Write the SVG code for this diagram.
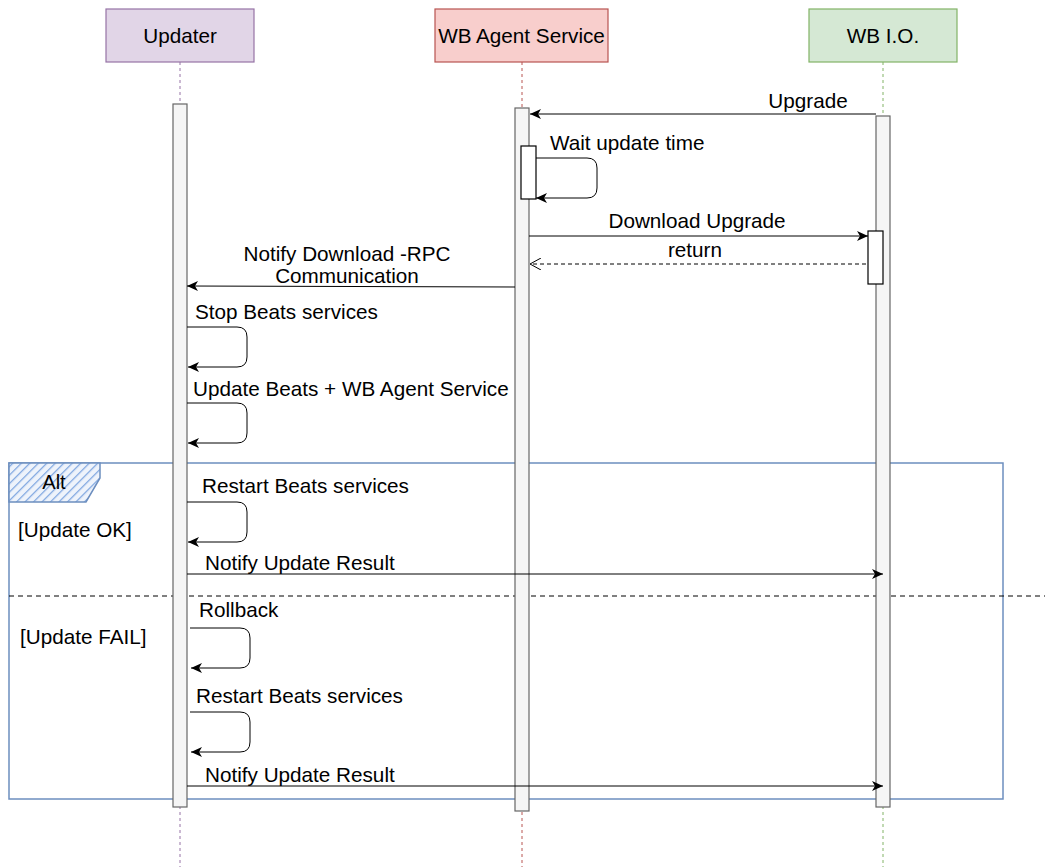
<svg xmlns="http://www.w3.org/2000/svg" width="1045" height="867" viewBox="0 0 1045 867">
<style>
text{font-family:"Liberation Sans",Arial,Helvetica,sans-serif;font-size:20.7px;fill:#000}
.c{text-anchor:middle}
.msg{fill:none;stroke:#000;stroke-width:1}
.act{fill:#f5f5f5;stroke:#666;stroke-width:1.2}
.act2{fill:#fff;stroke:#000;stroke-width:1.2}
.ll{stroke-width:1;stroke-dasharray:3,3;fill:none}
</style>
<defs>
<marker id="ah" markerUnits="userSpaceOnUse" markerWidth="12" markerHeight="10" refX="11" refY="5" orient="auto">
<path d="M0,0 L11,5 L0,10 L3,5 z" fill="#000"/>
</marker>
<marker id="oh" markerUnits="userSpaceOnUse" markerWidth="12" markerHeight="12" refX="11" refY="6" orient="auto">
<path d="M0,0 L11,6 L0,12" fill="none" stroke="#000" stroke-width="1"/>
</marker>
<pattern id="hatch" patternUnits="userSpaceOnUse" width="6" height="6" patternTransform="rotate(45)">
<rect width="6" height="6" fill="#eef3fb"/>
<line x1="0" y1="0" x2="0" y2="6" stroke="#7ea6e0" stroke-width="2.5"/>
</pattern>
</defs>
<rect width="1045" height="867" fill="#fff"/>

<g id="frame-alt">
<rect x="9" y="463" width="994" height="336" fill="none" stroke="#6c8ebf" stroke-width="1.5"/>
<path d="M9,463 L100,463 L100,478 L86,502 L9,502 Z" fill="url(#hatch)" stroke="#6c8ebf" stroke-width="1.5"/>
<text x="54" y="489" class="c" style="font-size:20px">Alt</text>
<text x="18" y="537">[Update OK]</text>
<text x="20" y="644">[Update FAIL]</text>
<line x1="9" y1="596" x2="1045" y2="596" stroke="#000" stroke-width="1" stroke-dasharray="5,4"/>
</g>

<g id="updater">
<line class="ll" x1="180" y1="62" x2="180" y2="867" stroke="#9673a6"/>
<rect x="106" y="9" width="148" height="53" fill="#e1d5e7" stroke="#9673a6" stroke-width="1.2"/>
<text x="180" y="43" class="c">Updater</text>
<rect class="act" x="173" y="104" width="14" height="703"/>
</g>

<g id="agent">
<line class="ll" x1="522" y1="62" x2="522" y2="867" stroke="#b85450"/>
<rect x="435" y="9" width="173" height="53" fill="#f8cecc" stroke="#b85450" stroke-width="1.2"/>
<text x="521.5" y="43" class="c">WB Agent Service</text>
<rect class="act" x="515" y="108" width="14" height="703"/>
<rect class="act2" x="521" y="146" width="15" height="53"/>
</g>

<g id="wbio">
<line class="ll" x1="883" y1="62" x2="883" y2="867" stroke="#82b366"/>
<rect x="809" y="9" width="148" height="53" fill="#d5e8d4" stroke="#82b366" stroke-width="1.2"/>
<text x="883" y="43" class="c">WB I.O.</text>
<rect class="act" x="876" y="116" width="14" height="691"/>
<rect class="act2" x="868" y="231" width="15" height="53"/>
</g>

<g id="connectors">
<path class="msg" d="M876,114 L530,114" marker-end="url(#ah)"/>
<text x="808" y="108" class="c">Upgrade</text>

<path class="msg" d="M536,158 L587,158 Q597,158 597,168 L597,188 Q597,198 587,198 L536,198" marker-end="url(#ah)"/>
<text x="550" y="150">Wait update time</text>

<path class="msg" d="M529,236 L868,236" marker-end="url(#ah)"/>
<text x="697" y="228" class="c">Download Upgrade</text>

<path class="msg" d="M866,264 L530,264" stroke-dasharray="4,3" marker-end="url(#oh)"/>
<text x="695" y="257" class="c">return</text>

<path class="msg" d="M515,287 L187,286" marker-end="url(#ah)"/>
<text x="347" y="261" class="c">Notify Download -RPC</text>
<text x="347" y="283" class="c">Communication</text>

<path class="msg" d="M187,327 L237,327 Q247,327 247,337 L247,357 Q247,367 237,367 L188,367" marker-end="url(#ah)"/>
<text x="195" y="319">Stop Beats services</text>

<path class="msg" d="M187,403 L237,403 Q247,403 247,413 L247,433 Q247,443 237,443 L188,443" marker-end="url(#ah)"/>
<text x="193" y="396">Update Beats + WB Agent Service</text>

<path class="msg" d="M187,502 L237,502 Q247,502 247,512 L247,532 Q247,542 237,542 L188,542" marker-end="url(#ah)"/>
<text x="202" y="493">Restart Beats services</text>

<path class="msg" d="M187,574 L883,574" marker-end="url(#ah)"/>
<text x="205" y="570">Notify Update Result</text>

<path class="msg" d="M190,628 L240,628 Q250,628 250,638 L250,658 Q250,668 240,668 L191,668" marker-end="url(#ah)"/>
<text x="199" y="617">Rollback</text>

<path class="msg" d="M190,712 L240,712 Q250,712 250,722 L250,742 Q250,752 240,752 L191,752" marker-end="url(#ah)"/>
<text x="196" y="703">Restart Beats services</text>

<path class="msg" d="M187,786 L883,786" marker-end="url(#ah)"/>
<text x="205" y="782">Notify Update Result</text>
</g>
</svg>
